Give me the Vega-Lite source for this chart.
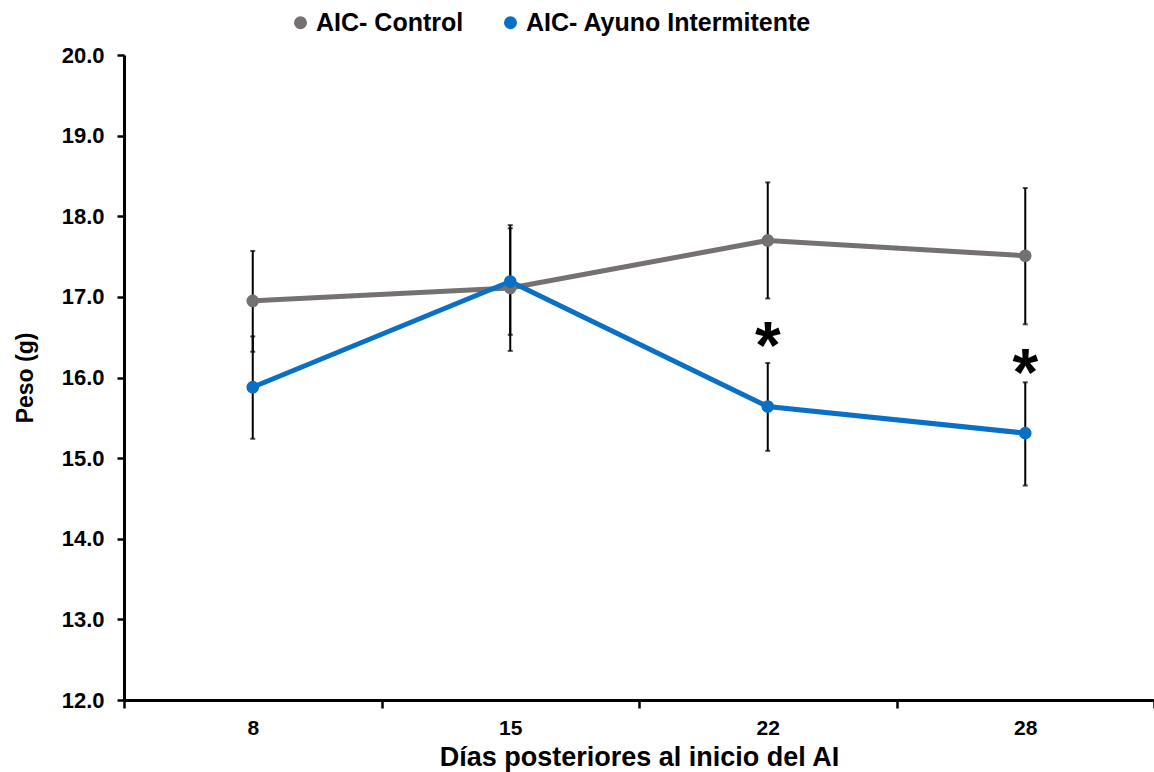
{
  "$schema": "https://vega.github.io/schema/vega-lite/v6.json",
  "width": 1030,
  "height": 645,
  "autosize": {"type": "none"},
  "padding": {"left": 124, "top": 55, "right": 0, "bottom": 72},
  "config": {"view": {"stroke": null}, "font": "Liberation Sans"},
  "data": {"values": [
    {"dia": 8, "grupo": "AIC- Control", "peso": 16.95, "lo": 16.32, "hi": 17.57},
    {"dia": 15, "grupo": "AIC- Control", "peso": 17.11, "lo": 16.33, "hi": 17.89},
    {"dia": 22, "grupo": "AIC- Control", "peso": 17.70, "lo": 16.98, "hi": 18.42},
    {"dia": 28, "grupo": "AIC- Control", "peso": 17.51, "lo": 16.66, "hi": 18.35},
    {"dia": 8, "grupo": "AIC- Ayuno Intermitente", "peso": 15.88, "lo": 15.24, "hi": 16.51},
    {"dia": 15, "grupo": "AIC- Ayuno Intermitente", "peso": 17.19, "lo": 16.53, "hi": 17.85},
    {"dia": 22, "grupo": "AIC- Ayuno Intermitente", "peso": 15.64, "lo": 15.09, "hi": 16.18},
    {"dia": 28, "grupo": "AIC- Ayuno Intermitente", "peso": 15.31, "lo": 14.66, "hi": 15.94}
  ]},
  "encoding": {
    "x": {
      "field": "dia", "type": "ordinal", "sort": [8, 15, 22, 28],
      "scale": {"type": "band", "paddingInner": 0, "paddingOuter": 0},
      "bandPosition": 0.5,
      "axis": {
        "title": "Días posteriores al inicio del AI",
        "titleFontSize": 27, "titleFontWeight": "bold", "titleColor": "black", "titlePadding": 6,
        "labelFontSize": 21, "labelFontWeight": "bold", "labelColor": "black", "labelPadding": 9, "labelAngle": 0,
        "tickBand": "extent", "tickSize": 8, "tickWidth": 2.5, "tickColor": "black",
        "domainWidth": 3, "domainColor": "black", "grid": false
      }
    }
  },
  "layer": [
    {
      "mark": {"type": "rule", "color": "black", "strokeWidth": 2},
      "encoding": {
        "y": {"field": "lo", "type": "quantitative"},
        "y2": {"field": "hi"}
      }
    },
    {
      "mark": {"type": "tick", "color": "black", "size": 5, "thickness": 2, "orient": "horizontal"},
      "encoding": {"y": {"field": "lo", "type": "quantitative"}}
    },
    {
      "mark": {"type": "tick", "color": "black", "size": 5, "thickness": 2, "orient": "horizontal"},
      "encoding": {"y": {"field": "hi", "type": "quantitative"}}
    },
    {
      "mark": {"type": "line", "strokeWidth": 5},
      "encoding": {
        "y": {"field": "peso", "type": "quantitative"},
        "color": {"field": "grupo", "type": "nominal",
          "scale": {"domain": ["AIC- Control", "AIC- Ayuno Intermitente"], "range": ["#767171", "#0A70C6"]},
          "legend": {
            "title": null, "orient": "none", "direction": "horizontal", "legendX": 164, "legendY": -45,
            "symbolType": "circle", "symbolSize": 170, "symbolStrokeWidth": 0,
            "labelFontSize": 25, "labelFontWeight": "bold", "labelColor": "black", "labelOffset": 3,
            "columnPadding": 34, "labelLimit": 400
          }}
      }
    },
    {
      "mark": {"type": "point", "filled": true, "opacity": 1, "size": 160},
      "encoding": {
        "y": {
          "field": "peso", "type": "quantitative",
          "scale": {"domain": [12, 20], "nice": false, "zero": false},
          "axis": {
            "title": "Peso (g)", "titleFontSize": 23, "titleFontWeight": "bold", "titleColor": "black", "titlePadding": 24,
            "values": [12, 13, 14, 15, 16, 17, 18, 19, 20], "format": ".1f",
            "labelFontSize": 22, "labelFontWeight": "bold", "labelColor": "black", "labelPadding": 13,
            "tickSize": 7, "tickWidth": 2.5, "tickColor": "black",
            "domainWidth": 3, "domainColor": "black", "grid": false
          }
        },
        "color": {"field": "grupo", "type": "nominal",
          "scale": {"domain": ["AIC- Control", "AIC- Ayuno Intermitente"], "range": ["#767171", "#0A70C6"]},
          "legend": {
            "title": null, "orient": "none", "direction": "horizontal", "legendX": 164, "legendY": -45,
            "symbolType": "circle", "symbolSize": 170, "symbolStrokeWidth": 0,
            "labelFontSize": 25, "labelFontWeight": "bold", "labelColor": "black", "labelOffset": 3,
            "columnPadding": 34, "labelLimit": 400
          }
        }
      }
    },
    {
      "data": {"values": [{"dia": 22, "peso": 16.53}, {"dia": 28, "peso": 16.19}]},
      "mark": {"type": "text", "text": "*", "fontSize": 66, "fontWeight": "bold", "color": "black", "baseline": "middle", "align": "center", "dy": 13},
      "encoding": {"y": {"field": "peso", "type": "quantitative"}}
    }
  ]
}
